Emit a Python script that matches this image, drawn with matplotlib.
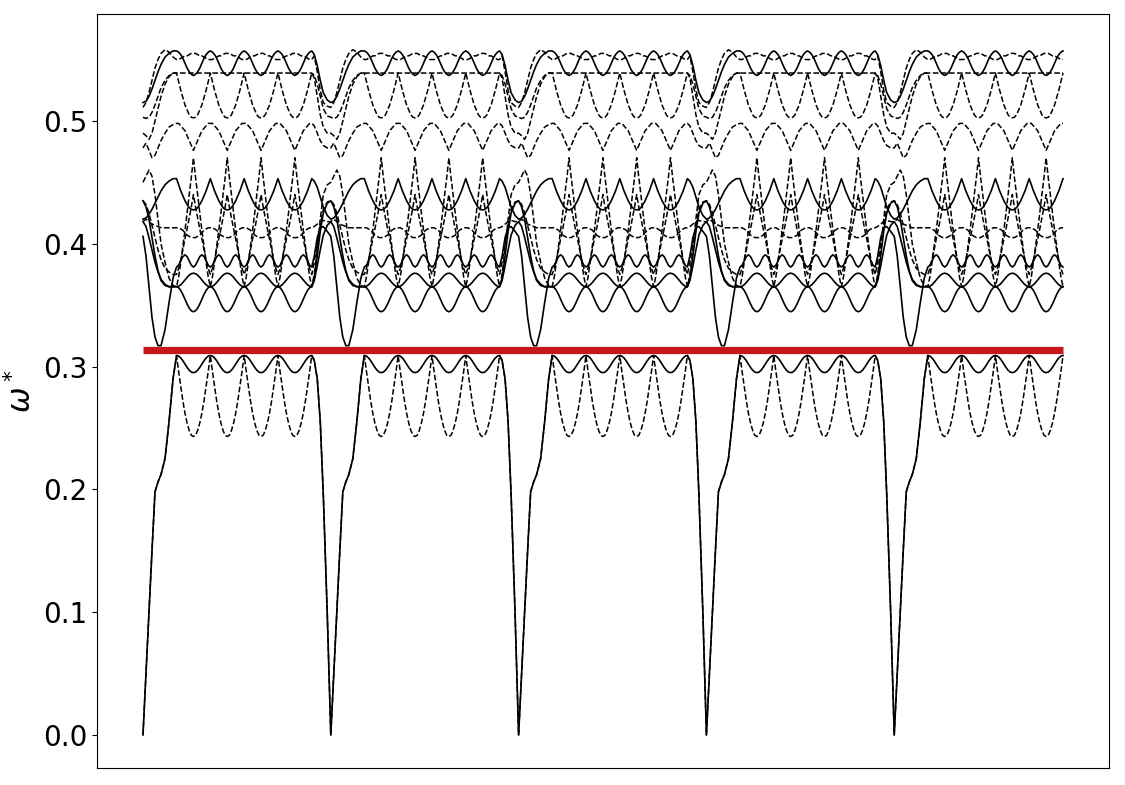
import matplotlib
matplotlib.use('Agg')
import matplotlib.pyplot as plt
import numpy as np

plt.rcParams['font.size'] = 20

# ---------------------------------------------------------------------------
# k-path layout (arbitrary path-length units), repeated 5 times
# ---------------------------------------------------------------------------
period = 187.5
n_periods = 5
n_humps = 4
hump_start = 33.5
hump_width = 33.75
approach_k = [0, 3, 6, 9, 12, 15, 18, 22, 26, 30]
return_k = [171, 174, 177, 180, 184]

# frequency level of the red reference line
omega_ref = 0.3135

# ---------------------------------------------------------------------------
# bands: values on approach_k, one hump (17 samples), values on return_k
# ---------------------------------------------------------------------------
# solid bands
s0_in = [0.0, 0.05, 0.10, 0.15, 0.198, 0.206, 0.212, 0.225, 0.255, 0.29]
s0_hump = [0.309, 0.3085, 0.307, 0.3047, 0.302, 0.2993, 0.297, 0.2955, 0.295,
           0.2955, 0.297, 0.2993, 0.302, 0.3047, 0.307, 0.3085, 0.309]
s0_out = [0.305, 0.29, 0.255, 0.196, 0.098]

s5_in = [0.435, 0.43, 0.42, 0.405, 0.39, 0.378, 0.37, 0.366, 0.365, 0.365]
s5_hump = [0.365, 0.3642, 0.362, 0.3587, 0.3548, 0.3509, 0.3476, 0.3454, 0.3446,
           0.3454, 0.3476, 0.3509, 0.3548, 0.3587, 0.362, 0.3642, 0.365]
s5_out = [0.372, 0.39, 0.41, 0.425, 0.433]

s4_in = [0.418, 0.414, 0.405, 0.395, 0.385, 0.377, 0.371, 0.367, 0.365, 0.365]
s4_hump = [0.365, 0.3654, 0.3666, 0.3684, 0.3705, 0.3726, 0.3744, 0.3756, 0.376,
           0.3756, 0.3744, 0.3726, 0.3705, 0.3684, 0.3666, 0.3654, 0.365]
s4_out = [0.37, 0.382, 0.395, 0.407, 0.415]

s3_in = [0.406, 0.39, 0.365, 0.34, 0.324, 0.317, 0.317, 0.33, 0.352, 0.372]
s3_hump = [0.381, 0.3825, 0.386, 0.3895, 0.391, 0.3895, 0.386, 0.3825, 0.381,
           0.3825, 0.386, 0.3895, 0.391, 0.3895, 0.386, 0.3825, 0.381]
s3_out = [0.39, 0.405, 0.413, 0.414, 0.41]

s2_in = [0.42, 0.421, 0.424, 0.428, 0.433, 0.438, 0.443, 0.448, 0.451, 0.453]
s2_hump = [0.453, 0.448, 0.443, 0.439, 0.435, 0.432, 0.4294, 0.428, 0.4275,
           0.428, 0.4294, 0.432, 0.435, 0.439, 0.443, 0.448, 0.453]
s2_out = [0.451, 0.446, 0.438, 0.43, 0.423]

s1_in = [0.515, 0.516, 0.52, 0.526, 0.533, 0.54, 0.546, 0.552, 0.555, 0.557]
s1_hump = [0.557, 0.556, 0.554, 0.551, 0.547, 0.543, 0.540, 0.538, 0.537,
           0.538, 0.540, 0.543, 0.547, 0.551, 0.554, 0.556, 0.557]
s1_out = [0.554, 0.545, 0.533, 0.523, 0.517]

# dashed bands
d0_in = [0.0, 0.05, 0.10, 0.15, 0.198, 0.206, 0.212, 0.225, 0.255, 0.29]
d0_hump = [0.309, 0.296, 0.284, 0.272, 0.262, 0.254, 0.248, 0.244, 0.243,
           0.244, 0.248, 0.254, 0.262, 0.272, 0.284, 0.296, 0.309]
d0_out = [0.305, 0.29, 0.255, 0.196, 0.098]

d7_in = [0.435, 0.432, 0.425, 0.415, 0.405, 0.395, 0.387, 0.38, 0.377, 0.375]
d7_hump = [0.375, 0.380, 0.387, 0.395, 0.404, 0.412, 0.421, 0.430, 0.440,
           0.430, 0.421, 0.412, 0.404, 0.395, 0.387, 0.380, 0.375]
d7_out = [0.385, 0.40, 0.415, 0.428, 0.434]

d5_in = [0.45, 0.455, 0.46, 0.455, 0.44, 0.42, 0.40, 0.385, 0.372, 0.366]
d5_hump = [0.365, 0.373, 0.385, 0.398, 0.411, 0.425, 0.440, 0.454, 0.470,
           0.454, 0.440, 0.425, 0.411, 0.398, 0.385, 0.373, 0.365]
d5_out = [0.375, 0.395, 0.42, 0.44, 0.448]

d6_in = [0.418, 0.42, 0.418, 0.416, 0.415, 0.414, 0.413, 0.413, 0.413, 0.413]
d6_hump = [0.413, 0.413, 0.412, 0.411, 0.409, 0.407, 0.406, 0.405, 0.405,
           0.405, 0.406, 0.407, 0.409, 0.411, 0.412, 0.413, 0.413]
d6_out = [0.414, 0.416, 0.418, 0.419, 0.418]

d4_in = [0.478, 0.482, 0.476, 0.47, 0.472, 0.478, 0.484, 0.49, 0.495, 0.497]
d4_hump = [0.498, 0.498, 0.496, 0.494, 0.492, 0.488, 0.484, 0.480, 0.476,
           0.480, 0.484, 0.488, 0.492, 0.494, 0.496, 0.498, 0.498]
d4_out = [0.496, 0.49, 0.484, 0.48, 0.478]

d3_in = [0.49, 0.488, 0.485, 0.49, 0.5, 0.51, 0.52, 0.53, 0.536, 0.539]
d3_hump = [0.539, 0.532, 0.525, 0.519, 0.513, 0.509, 0.505, 0.503, 0.5025,
           0.503, 0.505, 0.509, 0.513, 0.519, 0.525, 0.532, 0.539]
d3_out = [0.535, 0.52, 0.505, 0.495, 0.49]

d2_in = [0.503, 0.502, 0.503, 0.507, 0.513, 0.52, 0.527, 0.533, 0.537, 0.539]
d2_hump = [0.539] * 17
d2_out = [0.537, 0.53, 0.52, 0.51, 0.504]

d1_in = [0.511, 0.515, 0.523, 0.533, 0.543, 0.55, 0.555, 0.558, 0.556, 0.552]
d1_hump = [0.550, 0.550, 0.551, 0.552, 0.553, 0.553, 0.554, 0.555, 0.555,
           0.555, 0.554, 0.553, 0.553, 0.552, 0.551, 0.550, 0.550]
d1_out = [0.553, 0.54, 0.525, 0.515, 0.512]

solid_bands = [(s0_in, s0_hump, s0_out), (s5_in, s5_hump, s5_out),
               (s4_in, s4_hump, s4_out), (s3_in, s3_hump, s3_out),
               (s2_in, s2_hump, s2_out), (s1_in, s1_hump, s1_out)]
dashed_bands = [(d0_in, d0_hump, d0_out), (d7_in, d7_hump, d7_out),
                (d5_in, d5_hump, d5_out), (d6_in, d6_hump, d6_out),
                (d4_in, d4_hump, d4_out), (d3_in, d3_hump, d3_out),
                (d2_in, d2_hump, d2_out), (d1_in, d1_hump, d1_out)]


def build_band(b_in, b_hump, b_out):
    hump_x = np.linspace(hump_start, hump_start + n_humps * hump_width,
                         n_humps * (len(b_hump) - 1) + 1)
    hump_y = np.concatenate([np.tile(b_hump[:-1], n_humps), [b_hump[-1]]])
    xs, ys = [], []
    for p in range(n_periods):
        off = p * period
        xs.append(np.array(approach_k) + off)
        ys.append(np.array(b_in))
        xs.append(hump_x + off)
        ys.append(hump_y)
        if p < n_periods - 1:
            xs.append(np.array(return_k) + off)
            ys.append(np.array(b_out))
    return np.concatenate(xs), np.concatenate(ys)


fig = plt.figure(figsize=(11.25, 7.85), dpi=100)
ax = fig.add_axes([0.0862, 0.0217, 0.8996, 0.9605])

for b in dashed_bands:
    x, y = build_band(*b)
    ax.plot(x, y, color='black', linestyle='--', linewidth=1.1)
for b in solid_bands:
    x, y = build_band(*b)
    ax.plot(x, y, color='black', linestyle='-', linewidth=1.2)

x_end = (n_periods - 1) * period + hump_start + n_humps * hump_width
ax.plot([0, x_end], [omega_ref, omega_ref], color='#c8161d', linewidth=5.2,
        solid_capstyle='butt', zorder=5)

ax.set_xlim(-0.05 * x_end, 1.05 * x_end)
ax.set_ylim(-0.0269, 0.5871)
ax.set_xticks([])
ax.set_yticks([0.0, 0.1, 0.2, 0.3, 0.4, 0.5])
ax.set_ylabel(r'$\omega^*$', fontsize=22)

plt.savefig('out.png', dpi=100)
